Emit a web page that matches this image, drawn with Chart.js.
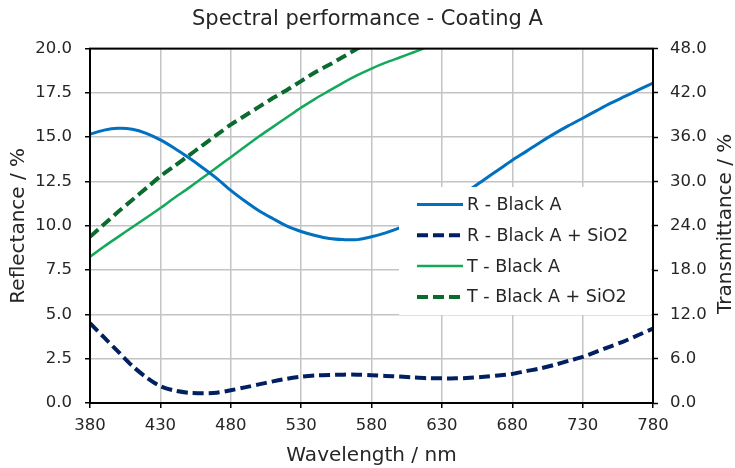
<!DOCTYPE html>
<html>
<head>
<meta charset="utf-8">
<script src="https://cdn.jsdelivr.net/npm/chart.js@4/dist/chart.umd.min.js"></script>
<style>
   html, body { margin: 0; padding: 0; background: #fff; }
   #wrap { width: 735px; height: 468px; }
</style>
</head>
<body>
<div id="wrap"><canvas id="myChart" width="735" height="468"></canvas></div>
<script>
// wavelength grid (nm), read every 10 nm off the picture
const wavelengths = [380, 390, 400, 410, 420, 430, 440, 450, 460, 470, 480, 490, 500, 510, 520, 530, 540, 550, 560, 570,
   580, 590, 600, 610, 620, 630, 640, 650, 660, 670, 680, 690, 700, 710, 720, 730, 740, 750, 760, 770, 780];

// reflectance, left axis (%)
const rBlackA = [15.17, 15.4, 15.5, 15.45, 15.22, 14.85, 14.38, 13.85, 13.28, 12.68, 12.0, 11.4, 10.85, 10.4, 9.98, 9.68,
   9.45, 9.28, 9.22, 9.22, 9.38, 9.6, 9.88, 10.2, 10.6, 11.05, 11.55, 12.05, 12.6, 13.15, 13.7, 14.2, 14.72, 15.2, 15.65,
   16.07, 16.5, 16.92, 17.3, 17.68, 18.05];
const rBlackASiO2 = [4.5, 3.7, 2.9, 2.1, 1.45, 0.95, 0.7, 0.58, 0.55, 0.58, 0.72, 0.88, 1.05, 1.22, 1.37, 1.48, 1.55, 1.58,
   1.6, 1.6, 1.57, 1.53, 1.49, 1.44, 1.4, 1.39, 1.39, 1.42, 1.48, 1.55, 1.64, 1.8, 1.95, 2.15, 2.38, 2.6, 2.9, 3.2, 3.5,
   3.85, 4.2];

// transmittance, right axis (%) - they run off the top, so they stop early
const tBlackA = [19.8, 21.2, 22.5, 23.8, 25.1, 26.4, 27.8, 29.1, 30.5, 31.9, 33.3, 34.7, 36.1, 37.4, 38.7, 40.0, 41.2, 42.3,
   43.4, 44.4, 45.3, 46.1, 46.8, 47.5, 48.2, 48.8, 49.4];
const tBlackASiO2 = [22.5, 24.2, 25.9, 27.5, 29.1, 30.7, 32.1, 33.5, 34.9, 36.3, 37.7, 38.9, 40.1, 41.3, 42.4, 43.6, 44.8,
   45.8, 46.9, 48.0, 49.0, 50.0];

const seriesNames = ['R - Black A', 'R - Black A + SiO2', 'T - Black A', 'T - Black A + SiO2'];

const FONT = "'DejaVu Sans', Verdana, sans-serif";
const TEXT = '#262626';

function toPoints(values) {
   return values.map((v, i) => ({x: wavelengths[i], y: v}));
}

// legend sitting inside the plot on a white box
const boxLegend = {
   id: 'boxLegend',
   afterDatasetsDraw(chart) {
      const ctx = chart.ctx;
      const area = chart.chartArea;
      const left = 399, top = 187, right = area.right - 2, bottom = 315;
      ctx.save();
      ctx.fillStyle = '#fff';
      ctx.fillRect(left, top, right - left, bottom - top);
      ctx.font = `17.5px ${FONT}`;
      ctx.textBaseline = 'middle';
      ctx.fillStyle = TEXT;
      chart.data.datasets.forEach((ds, i) => {
         const y = 204.5 + i * 30.8;
         ctx.beginPath();
         ctx.strokeStyle = ds.borderColor;
         ctx.lineWidth = ds.borderWidth;
         ctx.setLineDash(ds.borderDash || []);
         ctx.moveTo(417, y);
         ctx.lineTo(463, y);
         ctx.stroke();
         ctx.setLineDash([]);
         ctx.fillText(ds.label, 467, y + 1);
      });
      ctx.restore();
   }
};

// black frame round the plot + right axis title reading bottom to top
const frame = {
   id: 'frame',
   afterDraw(chart) {
      const ctx = chart.ctx;
      const a = chart.chartArea;
      ctx.save();
      ctx.strokeStyle = '#000';
      ctx.lineWidth = 2;
      ctx.strokeRect(a.left, a.top, a.right - a.left, a.bottom - a.top);

      ctx.translate(725.5, (a.top + a.bottom) / 2 - 2);
      ctx.rotate(-Math.PI / 2);
      ctx.font = `20px ${FONT}`;
      ctx.fillStyle = TEXT;
      ctx.textAlign = 'center';
      ctx.textBaseline = 'middle';
      ctx.fillText('Transmittance / %', 0, 0);
      ctx.restore();
   }
};

const gridStyle = {color: '#c4c4c4', lineWidth: 1.5, tickColor: '#000', tickLength: 5, tickWidth: 1.5};

const ctx = document.getElementById('myChart').getContext('2d');
new Chart(ctx, {
   type: 'line',
   data: {
      datasets: [
         {label: seriesNames[0], data: toPoints(rBlackA), yAxisID: 'y', borderColor: '#0070c0', borderWidth: 3},
         {label: seriesNames[1], data: toPoints(rBlackASiO2), yAxisID: 'y', borderColor: '#002060', borderWidth: 4, borderDash: [11, 5]},
         {label: seriesNames[2], data: toPoints(tBlackA), yAxisID: 'y1', borderColor: '#14a85a', borderWidth: 2.5},
         {label: seriesNames[3], data: toPoints(tBlackASiO2), yAxisID: 'y1', borderColor: '#0b6b2e', borderWidth: 4, borderDash: [11, 5]},
      ]
   },
   options: {
      responsive: false,
      animation: false,
      layout: {padding: 0},
      elements: {point: {radius: 0, hoverRadius: 0}, line: {tension: 0.3, fill: false, borderCapStyle: 'butt'}},
      plugins: {
         legend: {display: false},
         tooltip: {enabled: false},
         title: {
            display: true,
            text: 'Spectral performance - Coating A',
            color: TEXT,
            font: {family: FONT, size: 21, weight: 'normal'},
            padding: {top: 7.4, bottom: 16}
         }
      },
      scales: {
         x: {
            type: 'linear', min: 380, max: 780,
            ticks: {stepSize: 50, padding: 8, color: TEXT, font: {family: FONT, size: 16.5}, callback: v => v},
            grid: gridStyle,
            border: {color: '#000', width: 2},
            title: {display: true, text: 'Wavelength / nm', color: TEXT, font: {family: FONT, size: 20}, padding: {top: 0, bottom: 0.5}},
            afterFit: scale => { scale.height = 65; }
         },
         y: {
            position: 'left', min: 0, max: 20,
            ticks: {stepSize: 2.5, padding: 13, color: TEXT, font: {family: FONT, size: 16.5}, callback: v => v.toFixed(1)},
            grid: gridStyle,
            border: {color: '#000', width: 2},
            title: {display: true, text: 'Reflectance / %', color: TEXT, font: {family: FONT, size: 20}, padding: {top: 7, bottom: 0}},
            afterFit: scale => { scale.width = 90; }
         },
         y1: {
            position: 'right', min: 0, max: 48,
            ticks: {stepSize: 6, padding: 12, color: TEXT, font: {family: FONT, size: 16.5}, callback: v => v.toFixed(1)},
            grid: {drawOnChartArea: false, tickColor: '#000', tickLength: 5, tickWidth: 1.5},
            border: {color: '#000', width: 2},
            afterFit: scale => { scale.width = 82; }
         }
      }
   },
   plugins: [boxLegend, frame]
});
</script>
</body>
</html>
